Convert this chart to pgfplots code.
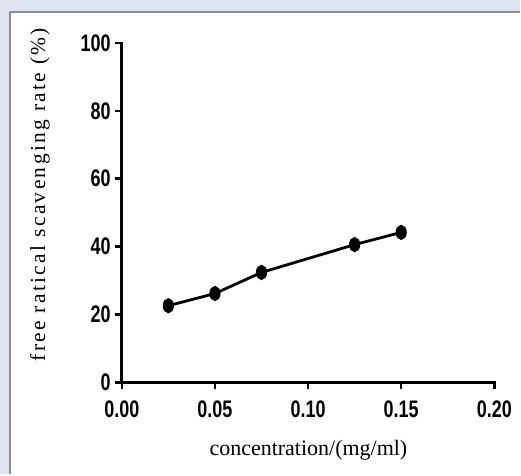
\documentclass[border=0pt]{standalone}
\usepackage{pgfplots}
\pgfplotsset{compat=1.18}
\usepackage{fontspec}
\setmainfont{Liberation Serif}
\newfontfamily\tickfont[FakeStretch=0.75]{Liberation Sans}
\newfontfamily\labfont[LetterSpace=11]{Liberation Serif}
\definecolor{bgblue}{HTML}{DFE3F0}
\definecolor{framegray}{HTML}{8C8C8C}
\begin{document}
\begin{tikzpicture}[x=1pt,y=1pt]
\fill[bgblue] (0,0) rectangle (521,-475);
\fill[white] (10,-12) rectangle (521,-475);
\draw[framegray, line width=1.5pt] (10,-475) -- (10,-12) -- (521,-12);
\begin{axis}[
  at={(122pt,-383pt)}, anchor=south west,
  scale only axis, width=373pt, height=340pt,
  xmin=0, xmax=0.2, ymin=0, ymax=100,
  axis x line*=bottom, axis y line*=left,
  axis line style={line width=2.8pt, line cap=rect},
  xtick={0,0.05,0.1,0.15,0.2},
  ytick={0,20,40,60,80,100},
  tick align=outside,
  major tick length=7pt,
  every tick/.style={line width=2.6pt, black},
  /pgf/number format/assume math mode=true,
  tick label style={font=\tickfont\bfseries\fontsize{24}{24}\selectfont, inner sep=2pt},
  yticklabel style={xshift=-2pt},
  xticklabel style={yshift=-9pt, /pgf/number format/.cd, fixed, fixed zerofill, precision=2},
  every axis x label/.style={at={(axis description cs:0.501,-0.20)}, anchor=center},
  every axis y label/.style={at={(axis description cs:-0.22,0.553)}, rotate=90, anchor=center},
  xlabel={\fontsize{22}{22}\selectfont concentration/(mg/ml)},
  ylabel={\labfont\fontsize{21.5}{21.5}\selectfont free ratical scavenging rate (\%)},
  clip=false,
]
\addplot[black, line width=2.8pt, mark=*, mark size=4.2pt, mark options={yscale=1.45, solid}]
  coordinates {(0.025,22.6) (0.05,26.2) (0.075,32.4) (0.125,40.6) (0.15,44.2)};
\end{axis}
\end{tikzpicture}
\end{document}
